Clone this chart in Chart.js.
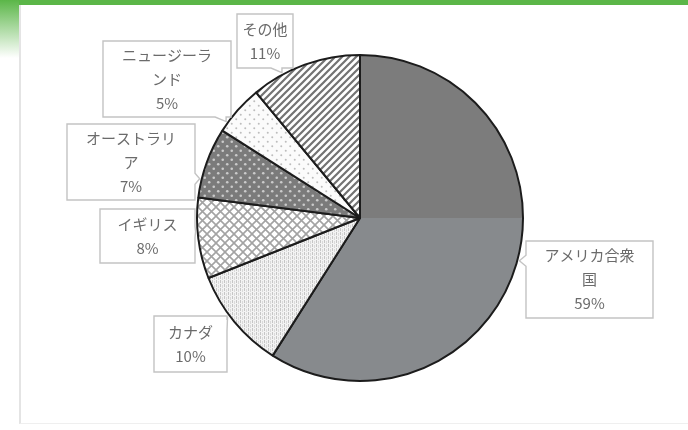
<!DOCTYPE html>
<html>
<head>
<meta charset="utf-8">
<script src="https://cdn.jsdelivr.net/npm/chart.js@4.4.1/dist/chart.umd.min.js"></script>
<style>
  html, body { margin: 0; padding: 0; background: #ffffff; }
  #wrap { position: relative; width: 688px; height: 430px; overflow: hidden; background: #fff; }
  #topbar { position: absolute; left: 0; top: 0; width: 688px; height: 5px; background: #5bb648; }
  #leftgrad { position: absolute; left: 0; top: 0; width: 19px; height: 58px; background: linear-gradient(#5bb648, #ffffff); }
  #panel { position: absolute; left: 19px; top: 5px; width: 669px; height: 419px; border-left: 2px solid #e4e4e4; border-bottom: 1px solid #efefef; box-sizing: border-box; }
  canvas { position: absolute; left: 0; top: 0; }
</style>
</head>
<body>
<div id="wrap">
  <div id="topbar"></div>
  <div id="leftgrad"></div>
  <div id="panel"></div>
  <canvas id="c" width="688" height="430"></canvas>
</div>
<script>
// ---- data ----
const categories = ["アメリカ合衆国", "カナダ", "イギリス", "オーストラリア", "ニュージーランド", "その他"];
const shares = [59, 10, 8, 7, 5, 11];
// label text as wrapped in the original
const labelLines = [
  ["アメリカ合衆", "国"],
  ["カナダ"],
  ["イギリス"],
  ["オーストラリ", "ア"],
  ["ニュージーラ", "ンド"],
  ["その他"]
];

// ---- label box layout (pixel boxes: left, top, width, height) ----
const labelBoxes = [
  [526, 241, 127, 77],
  [154, 316, 73, 56],
  [100, 209, 95, 54],
  [67, 124, 128, 76],
  [103, 41, 128, 76],
  [237, 14, 56, 54]
];

function makeTile(w, h, draw) {
  const c = document.createElement('canvas');
  c.width = w; c.height = h;
  const g = c.getContext('2d');
  draw(g, w, h);
  return document.getElementById('c').getContext('2d').createPattern(c, 'repeat');
}

const patCanada = makeTile(4, 4, (g, w, h) => {
  g.fillStyle = '#f3f3f3'; g.fillRect(0, 0, w, h);
  g.fillStyle = '#c6c6c6'; g.fillRect(0, 0, 1, 3);
  g.fillStyle = '#dadada'; g.fillRect(2, 1, 1, 3);
});
const patUK = makeTile(9, 9, (g, w, h) => {
  g.fillStyle = '#ffffff'; g.fillRect(0, 0, w, h);
  g.strokeStyle = '#a3a3a3'; g.lineWidth = 1.6;
  g.beginPath();
  g.moveTo(-1, -1); g.lineTo(10, 10);
  g.moveTo(-1, 10); g.lineTo(10, -1);
  g.stroke();
});
const patAus = makeTile(9, 9, (g, w, h) => {
  g.fillStyle = '#7b7b7b'; g.fillRect(0, 0, w, h);
  g.fillStyle = '#cbcbcb';
  g.beginPath(); g.arc(2.25, 2.25, 1.3, 0, Math.PI * 2); g.fill();
  g.beginPath(); g.arc(6.75, 6.75, 1.3, 0, Math.PI * 2); g.fill();
});
const patNZ = makeTile(9, 9, (g, w, h) => {
  g.fillStyle = '#fbfbfb'; g.fillRect(0, 0, w, h);
  g.fillStyle = '#bdbdbd';
  g.beginPath(); g.arc(2.25, 2.25, 1.0, 0, Math.PI * 2); g.fill();
  g.beginPath(); g.arc(6.75, 6.75, 1.0, 0, Math.PI * 2); g.fill();
});
const patOther = makeTile(7, 7, (g, w, h) => {
  g.fillStyle = '#ffffff'; g.fillRect(0, 0, w, h);
  g.strokeStyle = '#737373'; g.lineWidth = 2.2;
  g.beginPath();
  g.moveTo(-1, 8); g.lineTo(8, -1);
  g.moveTo(-1, 1); g.lineTo(1, -1);
  g.moveTo(6, 8); g.lineTo(8, 6);
  g.stroke();
});

function usFill(ctx) {
  const ca = ctx.chart.chartArea;
  if (!ca) return '#828282';
  const gr = ctx.chart.ctx.createLinearGradient(0, ca.top, 0, ca.bottom);
  gr.addColorStop(0, '#7c7c7c');
  gr.addColorStop(0.5, '#7c7c7c');
  gr.addColorStop(0.5, '#878a8d');
  gr.addColorStop(1, '#878a8d');
  return gr;
}

const fills = [usFill, patCanada, patUK, patAus, patNZ, patOther];

const calloutPlugin = {
  id: 'callouts',
  afterDatasetsDraw(chart) {
    const ctx = chart.ctx;
    const meta = chart.getDatasetMeta(0);
    const total = shares.reduce((a, b) => a + b, 0);
    meta.data.forEach((arc, i) => {
      const { x: cx, y: cy, outerRadius: r, startAngle, endAngle } = arc.getProps(['x', 'y', 'outerRadius', 'startAngle', 'endAngle'], true);
      const [bx, by, bw, bh] = labelBoxes[i];
      const bcx = bx + bw / 2, bcy = by + bh / 2;
      let a = Math.atan2(bcy - cy, bcx - cx);
      while (a < startAngle) a += Math.PI * 2;
      while (a > startAngle + Math.PI * 2) a -= Math.PI * 2;
      const pad = 0.04;
      if (a > endAngle - pad) {
        const dEnd = a - (endAngle - pad);
        const dStart = (startAngle + Math.PI * 2 + pad) - a;
        a = dEnd < dStart ? endAngle - pad : startAngle + pad;
      }
      const tx = cx + Math.cos(a) * (r + 2);
      const ty = cy + Math.sin(a) * (r + 2);
      const L = bx, R = bx + bw, T = by, B = by + bh;
      const base = 11;
      ctx.save();
      ctx.beginPath();
      ctx.moveTo(L, T);
      if (ty < T && tx >= L && tx <= R) {
        const p = Math.min(Math.max(tx, L + 4), R - 4 - base);
        ctx.lineTo(p, T); ctx.lineTo(tx, ty); ctx.lineTo(p + base, T);
      }
      ctx.lineTo(R, T);
      if (tx > R) {
        const p = Math.min(Math.max(ty - base / 2, T + 4), B - 4 - base);
        ctx.lineTo(R, p); ctx.lineTo(tx, ty); ctx.lineTo(R, p + base);
      }
      ctx.lineTo(R, B);
      if (ty > B && tx >= L && tx <= R) {
        const p = Math.min(Math.max(tx, L + 4 + base), R - 4);
        ctx.lineTo(p, B); ctx.lineTo(tx, ty); ctx.lineTo(p - base, B);
      }
      ctx.lineTo(L, B);
      if (tx < L) {
        const p = Math.min(Math.max(ty + base / 2, T + 4 + base), B - 4);
        ctx.lineTo(L, p); ctx.lineTo(tx, ty); ctx.lineTo(L, p - base);
      }
      ctx.closePath();
      ctx.fillStyle = '#ffffff';
      ctx.fill();
      ctx.strokeStyle = '#c3c3c3';
      ctx.lineWidth = 1.4;
      ctx.stroke();

      const lines = labelLines[i].concat([Math.round(shares[i] / total * 100) + '%']);
      ctx.fillStyle = '#6b6b6b';
      ctx.font = '15px "Noto Sans CJK JP", "Noto Sans", sans-serif';
      ctx.textAlign = 'center';
      ctx.textBaseline = 'middle';
      const lh = 24;
      const startY = bcy - (lines.length - 1) * lh / 2;
      lines.forEach((ln, k) => ctx.fillText(ln, bcx, startY + k * lh));
      ctx.restore();
    });
  }
};

new Chart(document.getElementById('c'), {
  type: 'pie',
  data: {
    labels: categories,
    datasets: [{
      data: shares,
      backgroundColor: (ctx) => {
        const f = fills[ctx.dataIndex];
        return typeof f === 'function' ? f(ctx) : f;
      },
      borderColor: '#1c1c1c',
      borderWidth: 2
    }]
  },
  options: {
    responsive: false,
    animation: false,
    layout: { padding: { left: 196, right: 164, top: 54, bottom: 48 } },
    plugins: {
      legend: { display: false },
      tooltip: { enabled: false }
    }
  },
  plugins: [calloutPlugin]
});
</script>
</body>
</html>
